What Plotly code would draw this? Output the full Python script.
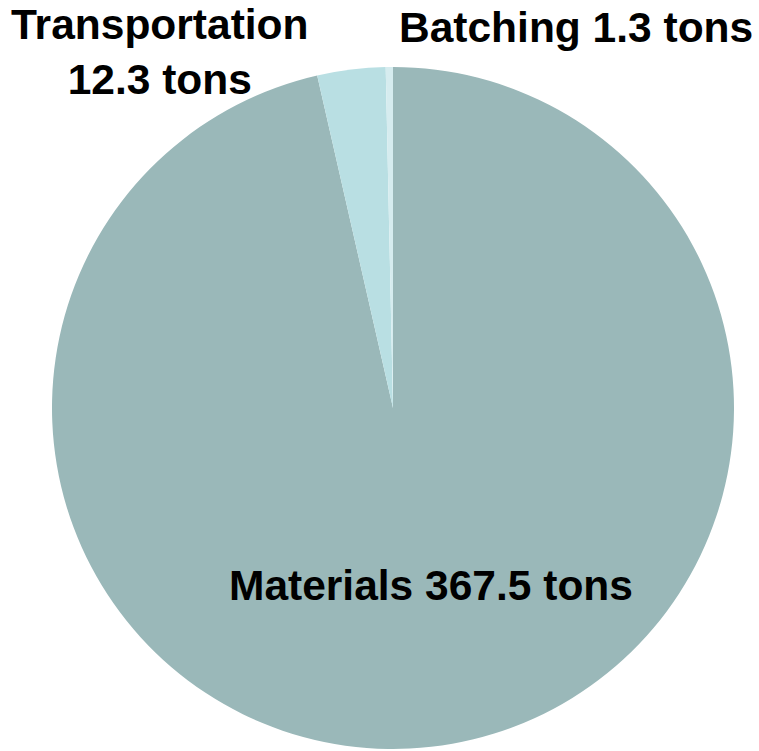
import plotly.graph_objects as go

categories = ["Materials", "Transportation", "Batching"]
values = [367.5, 12.3, 1.3]
colors = ["#9AB8B9", "#B9DFE3", "#D6ECEF"]

W, H = 759, 751
cx, cy, r = 393, 408, 341

fig = go.Figure(go.Pie(
    labels=categories,
    values=values,
    sort=False,
    direction="clockwise",
    rotation=0,
    marker=dict(colors=colors, line=dict(width=0)),
    textinfo="none",
    hoverinfo="label+value",
    showlegend=False,
    domain=dict(x=[(cx - r) / W, (cx + r) / W], y=[(H - cy - r) / H, (H - cy + r) / H]),
))

label_pos = {
    "Materials": (431, 585, " "),
    "Transportation": (160, 52, "<br>"),
    "Batching": (576, 27, " "),
}
for cat, val in zip(categories, values):
    px, py, sep = label_pos[cat]
    fig.add_annotation(
        x=px / W, y=(H - py) / H, xref="paper", yref="paper",
        text=f"<b>{cat}{sep}{val} tons</b>", showarrow=False,
        xanchor="center", yanchor="middle",
        font=dict(family="Liberation Sans, Arial", size=42.5, color="#000000"),
    )

fig.update_layout(
    width=W, height=H,
    margin=dict(l=0, r=0, t=0, b=0),
    paper_bgcolor="white", plot_bgcolor="white",
)
fig.write_html("out.html")
